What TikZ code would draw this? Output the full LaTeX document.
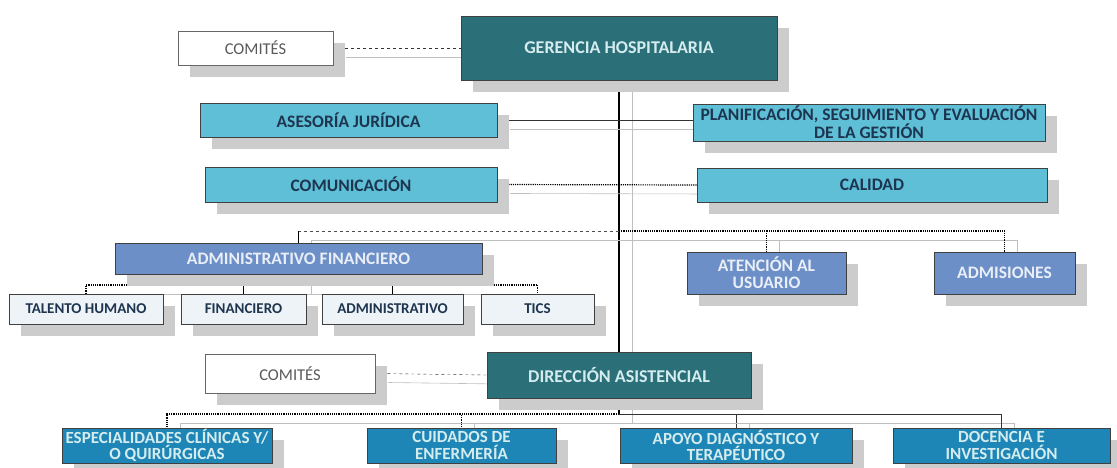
\documentclass[tikz,border=0pt]{standalone}
\usepackage{fontspec}
\setmainfont{Carlito}
\usepackage{tikz}
\usetikzlibrary{shadows}
\usetikzlibrary{backgrounds}

\definecolor{tealbox}{HTML}{2B6F79}
\definecolor{cyanbox}{HTML}{5EBFD7}
\definecolor{bluebox}{HTML}{6C8FC8}
\definecolor{deepbox}{HTML}{1E86B6}
\definecolor{palebox}{HTML}{EEF3F8}
\definecolor{navytext}{HTML}{1E3550}
\definecolor{lighttext}{HTML}{D5ECEF}

\tikzset{
  unit/.style={draw=black!75, line width=0.8pt, align=center, inner sep=1pt,
    drop shadow={shadow xshift=12pt, shadow yshift=-12pt, fill=gray!40, opacity=1}},
  topbox/.style={unit, fill=tealbox, text=lighttext, font=\bfseries\fontsize{18}{19}\selectfont},
  staffbox/.style={unit, fill=cyanbox, text=navytext, font=\bfseries\fontsize{17.5}{16}\selectfont},
  midbox/.style={unit, fill=bluebox, text=white!85!bluebox, font=\bfseries\fontsize{17.5}{17}\selectfont},
  subbox/.style={unit, fill=palebox, text=navytext, font=\bfseries\fontsize{15}{16}\selectfont},
  carebox/.style={unit, inner sep=0pt, fill=deepbox, text=lighttext, font=\bfseries\fontsize{17}{16.5}\selectfont},
  commbox/.style={unit, draw=black!60, fill=white, text=black!65, font=\fontsize{16.5}{18}\selectfont},
  twin/.style={preaction={draw=gray!50, line width=0.6pt, transform canvas={xshift=13pt, yshift=-9pt}}},
}

\begin{document}
\begin{tikzpicture}[x=1pt, y=-1pt]
\useasboundingbox (0,0) rectangle (1117,468);

% top level
\node[commbox, minimum width=155pt, minimum height=34pt] (com1) at (255.5,48) {COMITÉS};
\node[topbox, minimum width=316pt, minimum height=64pt] (ger) at (619,48) {GERENCIA HOSPITALARIA};

% staff units
\node[staffbox, minimum width=297pt, minimum height=34pt] (ase) at (348.5,120) {ASESORÍA JURÍDICA};
\node[staffbox, minimum width=352pt, minimum height=37pt] (pla) at (869,122.5) {PLANIFICACIÓN, SEGUIMIENTO Y EVALUACIÓN\\DE LA GESTIÓN};
\node[staffbox, minimum width=292pt, minimum height=35pt] (comu) at (351,184.5) {COMUNICACIÓN};
\node[staffbox, minimum width=350pt, minimum height=34pt] (cal) at (872,185) {CALIDAD};

% middle row
\node[midbox, minimum width=367pt, minimum height=31pt] (adm) at (298.5,258.5) {ADMINISTRATIVO FINANCIERO};
\node[midbox, minimum width=159pt, minimum height=42pt] (ate) at (766.5,273) {ATENCIÓN AL\\USUARIO};
\node[midbox, minimum width=141pt, minimum height=42pt] (adms) at (1004.5,273) {ADMISIONES};

\node[subbox, minimum width=154pt, minimum height=30pt] (tal) at (86,309) {TALENTO HUMANO};
\node[subbox, minimum width=125pt, minimum height=30pt] (fin) at (243.5,309) {FINANCIERO};
\node[subbox, minimum width=141pt, minimum height=30pt] (admi) at (392.5,309) {ADMINISTRATIVO};
\node[subbox, minimum width=113pt, minimum height=30pt] (tics) at (537.5,309) {TICS};

% care
\node[commbox, minimum width=170pt, minimum height=39pt] (com2) at (290,373.5) {COMITÉS};
\node[topbox, minimum width=264pt, minimum height=46pt] (dir) at (619,375) {DIRECCIÓN ASISTENCIAL};

\node[carebox, minimum width=210pt, minimum height=35pt] (esp) at (167,445.5) {ESPECIALIDADES CLÍNICAS Y/\\O QUIRÚRGICAS};
\node[carebox, minimum width=189pt, minimum height=35pt] (cui) at (461.5,445.5) {CUIDADOS DE\\ENFERMERÍA};
\node[carebox, minimum width=232pt, minimum height=35pt] (apo) at (736,445.5) {APOYO DIAGNÓSTICO Y\\TERAPÉUTICO};
\node[carebox, minimum width=217pt, minimum height=35pt] (doc) at (1001.5,445.5) {DOCENCIA E\\INVESTIGACIÓN};

\coordinate (busA) at (619,231);
\coordinate (busF) at (298.5,285);
\coordinate (busD) at (619,414);

\begin{scope}[on background layer]
\draw[twin, line width=1.4pt] (ger.south) -- (dir.north);
\draw[twin, line width=1.4pt] (dir.south) -- (busD);
\draw[twin, black!80, line width=0.8pt] (ase.east) -- (ase.east -| pla.west);
\draw[twin, line width=1.2pt, densely dotted] (comu.east) -- (cal.west);
\draw[twin, black!80, dashed] (com1.east) -- (ger.west);
\draw[twin, black!80, dashed] (com2.east) -- (dir.west);

\draw[twin, black!70, dashed] (busA) -- (busA -| adm.north);
\draw[twin, line width=1pt] (busA -| adm.north) -- (adm.north);
\draw[twin, line width=1.2pt, densely dotted] (busA) -| (adms.north);
\draw[twin, line width=1.2pt, densely dotted] (busA) -| (ate.north);

\draw[twin, line width=1.2pt] (adm.south) -- (busF);
\draw[twin, line width=1pt] (busF) -| (fin.north);
\draw[twin, line width=1pt] (busF) -| (admi.north);
\draw[twin, line width=1.2pt, densely dotted] (fin.north |- busF) -| (tal.north);
\draw[twin, line width=1.2pt, densely dotted] (admi.north |- busF) -| (tics.north);

\draw[twin, line width=1.2pt, densely dotted] (busD) -| (esp.north);
\draw[twin, line width=1.2pt, densely dotted] (busD) -| (cui.north);
\draw[twin, black!80, line width=0.8pt] (busD) -| (apo.north);
\draw[twin, black!80, line width=0.8pt] (busD) -| (doc.north);
\end{scope}
\end{tikzpicture}
\end{document}
